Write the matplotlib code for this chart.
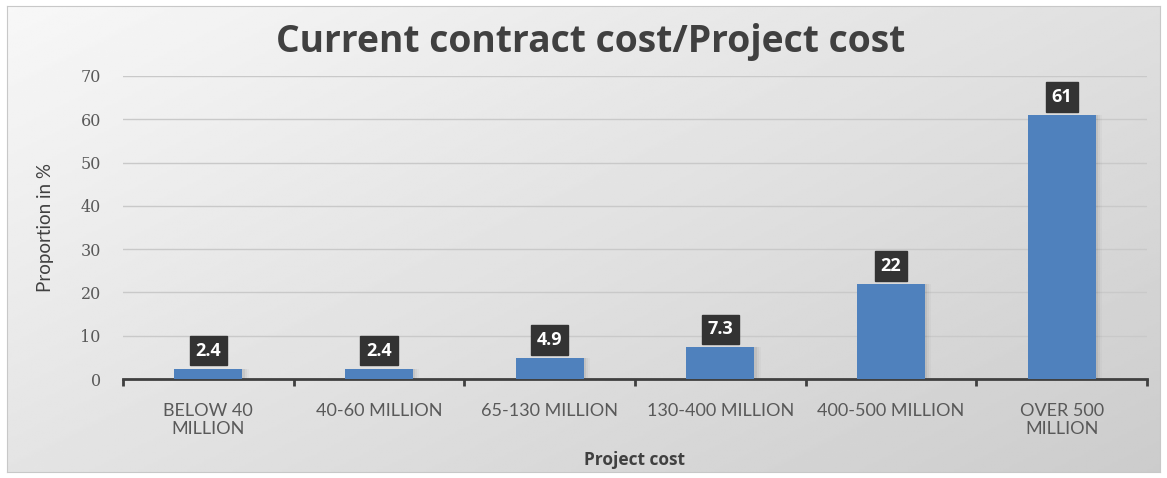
import numpy as np
import matplotlib
matplotlib.use("Agg")
import matplotlib.pyplot as plt

categories = ["BELOW 40\nMILLION", "40-60 MILLION", "65-130 MILLION",
              "130-400 MILLION", "400-500 MILLION", "OVER 500\nMILLION"]
values = [2.4, 2.4, 4.9, 7.3, 22, 61]
value_labels = ["2.4", "2.4", "4.9", "7.3", "22", "61"]
yticks = [0, 10, 20, 30, 40, 50, 60, 70]

W, H = 1167, 478
fig = plt.figure(figsize=(W / 100, H / 100), dpi=100)
fig.patch.set_facecolor("white")

# background gradient panel
bg = fig.add_axes([7 / W, 6 / H, (1160 - 7) / W, (472 - 6) / H])
yy, xx = np.mgrid[0:1:200j, 0:1:400j]
grad = 0.97 - 0.17 * (0.55 * xx + 0.45 * yy)
bg.imshow(grad, cmap="gray", vmin=0, vmax=1, aspect="auto", extent=[0, 1, 0, 1], origin="upper")
bg.set_xticks([]); bg.set_yticks([])
for s in bg.spines.values():
    s.set_color("#c8c8c8"); s.set_linewidth(0.8)
bg.set_zorder(0)

ax = fig.add_axes([123 / W, 1 - 379 / H, (1147 - 123) / W, (379 - 76) / H])
ax.set_zorder(1)
ax.patch.set_alpha(0)
x = np.arange(len(categories))
for off, a in [(0.012, 0.06), (0.024, 0.04), (0.036, 0.025)]:
    ax.bar(x + off, values, width=0.4, color="#000000", alpha=a, zorder=2, linewidth=0)
ax.bar(x, values, width=0.4, color="#4F81BD", zorder=3)
ax.set_xlim(-0.5, len(categories) - 0.5)
ax.set_ylim(0, 70)
ax.set_yticks(yticks)
ax.set_yticklabels([str(t) for t in yticks], family="DejaVu Serif", fontsize=11.5, color="#595959")
ax.yaxis.grid(True, color="#c9c9c9", linewidth=1.0, zorder=0)
ax.set_axisbelow(True)
ax.tick_params(axis="y", length=0, pad=16)
for s in ["top", "right", "left"]:
    ax.spines[s].set_visible(False)
ax.spines["bottom"].set_color("#404040")
ax.spines["bottom"].set_linewidth(2)

ax.set_xticks(np.arange(-0.5, len(categories), 1.0))
ax.set_xticklabels([])
ax.tick_params(axis="x", length=5, width=2, color="#404040", direction="out")
for xi, c in zip(x, categories):
    ax.text(xi, -5.6, c, ha="center", va="top", fontsize=13, color="#595959",
            family="Lato", linespacing=1.12)

for xi, v, lab in zip(x, values, value_labels):
    ax.annotate(lab, (xi, v), xytext=(0, 18), textcoords="offset pixels",
                ha="center", va="center", fontsize=13, fontweight="bold", color="white",
                family="Open Sans",
                bbox=dict(boxstyle="square,pad=0.32", fc="#333333", ec="#333333"),
                zorder=5)

fig.text(591 / W, 1 - 42 / H, "Current contract cost/Project cost", ha="center", va="center",
         fontsize=26.8, fontweight="bold", color="#404040", family="Open Sans")
fig.text(45 / W, 1 - 228 / H, "Proportion in %", ha="center", va="center", rotation=90,
         fontsize=13.5, color="#404040", family="Lato")
fig.text(635 / W, 1 - 460 / H, "Project cost", ha="center", va="center",
         fontsize=12.5, fontweight="bold", color="#404040", family="Open Sans")

fig.savefig("out.png", dpi=100)
